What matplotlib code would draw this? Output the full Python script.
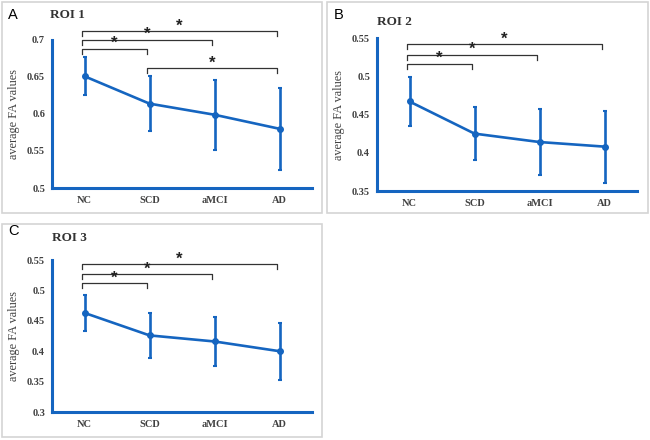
import matplotlib
matplotlib.use("Agg")
import matplotlib.pyplot as plt
from matplotlib.patches import Rectangle

W, H = 650, 440
BLUE = "#1565c0"
SERIF = "Liberation Serif"
SANS = "Liberation Sans"

groups = ["NC", "SCD", "aMCI", "AD"]

# ROI 1
roi1_mean = [0.651, 0.614, 0.599, 0.580]
roi1_err = [0.026, 0.037, 0.047, 0.055]
roi1_ticks = [0.5, 0.55, 0.6, 0.65, 0.7]
roi1_labels = ["0.5", "0.55", "0.6", "0.65", "0.7"]
roi1_brackets = [(0, 3, 0.712), (0, 2, 0.700), (0, 1, 0.688), (1, 3, 0.662)]

# ROI 2
roi2_mean = [0.467, 0.425, 0.414, 0.408]
roi2_err = [0.032, 0.035, 0.043, 0.047]
roi2_ticks = [0.35, 0.4, 0.45, 0.5, 0.55]
roi2_labels = ["0.35", "0.4", "0.45", "0.5", "0.55"]
roi2_brackets = [(0, 3, 0.542), (0, 2, 0.528), (0, 1, 0.5165)]

# ROI 3
roi3_mean = [0.463, 0.426, 0.416, 0.400]
roi3_err = [0.030, 0.037, 0.041, 0.047]
roi3_ticks = [0.3, 0.35, 0.4, 0.45, 0.5, 0.55]
roi3_labels = ["0.3", "0.35", "0.4", "0.45", "0.5", "0.55"]
roi3_brackets = [(0, 3, 0.543), (0, 2, 0.5265), (0, 1, 0.5117)]


def px_axes(fig, left, right, top, bottom):
    return fig.add_axes([left / W, 1 - bottom / H, (right - left) / W, (bottom - top) / H])


def draw_panel(ax, means, errs, ticks, labels, brackets):
    x = [i + 0.5 for i in range(len(groups))]
    ax.errorbar(x, means, yerr=errs, color=BLUE, lw=1.9, elinewidth=1.9,
                capsize=1.5, capthick=1.5, marker="o", markersize=4, zorder=3)
    ax.set_xlim(0, len(groups))
    ax.set_ylim(ticks[0], ticks[-1])
    ax.set_yticks(ticks)
    ax.set_yticklabels(labels, fontfamily=SERIF, fontsize=7.5, fontweight="bold",
                       color="#404040")
    ax.set_xticks(x)
    ax.set_xticklabels(groups, fontfamily=SERIF, fontsize=7.5, fontweight="bold",
                       color="#404040")
    ax.tick_params(axis="y", length=0, pad=5)
    ax.tick_params(axis="x", length=0, pad=6)
    for s in ("top", "right"):
        ax.spines[s].set_visible(False)
    for s in ("left", "bottom"):
        ax.spines[s].set_color(BLUE)
        ax.spines[s].set_linewidth(2.2)
    ax.set_ylabel("average FA values", fontfamily=SERIF, fontsize=8.8,
                  color="#404040", labelpad=5)
    span = ticks[-1] - ticks[0]
    drop = span * 0.034
    for a, b, y in brackets:
        xa, xb = x[a] - 0.04, x[b] - 0.04
        ax.plot([xa, xa, xb, xb], [y - drop, y, y, y - drop], color="#333333",
                lw=0.9, clip_on=False)
        ax.annotate("*", xy=((xa + xb) / 2, y), xytext=(0, 0.6),
                    textcoords="offset points", ha="center", va="baseline",
                    fontsize=12, fontweight="bold", fontfamily=SANS,
                    color="#222222", annotation_clip=False)


fig = plt.figure(figsize=(W / 100, H / 100), dpi=100)

# panel frames
for (l, t, r, b) in [(2, 2, 322, 213), (327, 2, 648, 213), (2, 224, 322, 437)]:
    fig.patches.append(Rectangle((l / W, 1 - b / H), (r - l) / W, (b - t) / H,
                                 transform=fig.transFigure, fill=False,
                                 edgecolor="#d4d4d4", lw=1.2))

ax1 = px_axes(fig, 52, 312, 40, 188)
draw_panel(ax1, roi1_mean, roi1_err, roi1_ticks, roi1_labels, roi1_brackets)
ax2 = px_axes(fig, 377, 637, 38, 191)
draw_panel(ax2, roi2_mean, roi2_err, roi2_ticks, roi2_labels, roi2_brackets)
ax3 = px_axes(fig, 52, 312, 260, 412)
draw_panel(ax3, roi3_mean, roi3_err, roi3_ticks, roi3_labels, roi3_brackets)

for letter, lx, ly in [("A", 8, 15), ("B", 334, 15), ("C", 8, 231)]:
    fig.text(lx / W, 1 - ly / H, letter, fontfamily=SANS, fontsize=10.5,
             ha="left", va="center")
for title, tx, ty in [("ROI 1", 50, 15), ("ROI 2", 377, 22), ("ROI 3", 52, 238)]:
    fig.text(tx / W, 1 - ty / H, title, fontfamily=SERIF, fontsize=9.5,
             fontweight="bold", color="#333333", ha="left", va="center")

fig.savefig("out.png", dpi=100)
